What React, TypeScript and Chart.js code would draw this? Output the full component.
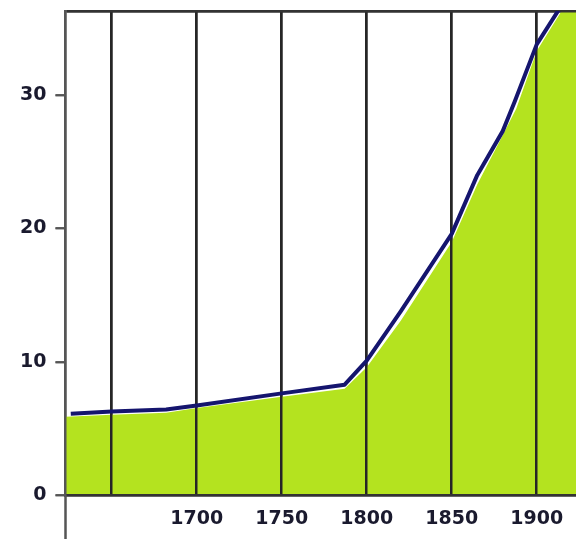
import React, { useEffect, useRef } from "react";
import { Chart, registerables } from "chart.js";

Chart.register(...registerables);

// Data
const lineYears = [1625.9, 1650, 1682, 1700, 1750, 1787, 1800, 1820, 1850, 1865, 1880, 1887, 1900, 1916];
const lineValues = [6.13, 6.3, 6.45, 6.75, 7.65, 8.3, 10.1, 13.8, 19.6, 24.0, 27.3, 29.5, 33.8, 37.0];

const fillYears = [1622.8, 1650, 1682, 1700, 1750, 1787, 1800, 1820, 1850, 1865, 1880, 1888, 1900, 1918, 1923.1];
const fillValues = [5.9, 6.05, 6.2, 6.55, 7.4, 8.0, 9.6, 13.1, 19.0, 23.3, 27.0, 29.0, 33.3, 37.0, 37.0];

const xTicks = [1650, 1700, 1750, 1800, 1850, 1900];
const yTicks = [0, 10, 20, 30];

const X_MIN = 1622.8;
const X_MAX = 1923.1;
const Y_MAX = 36.3;

export default function App() {
  const ref = useRef<HTMLCanvasElement | null>(null);

  useEffect(() => {
    if (!ref.current) return;
    const gridOnTop = {
      id: "gridOnTop",
      afterDatasetDraw(chart: any, args: any) {
        if (args.index === 1) {
          const ca = chart.chartArea;
          chart.scales.x.drawGrid(ca);
          chart.scales.y.drawGrid(ca);
          chart.scales.x.drawBorder();
          chart.scales.y.drawBorder();
        }
      },
      afterDraw(chart: any) {
        const ctx = chart.ctx;
        const ca = chart.chartArea;
        ctx.save();
        ctx.strokeStyle = "#555";
        ctx.lineWidth = 2.5;
        ctx.beginPath();
        ctx.moveTo(ca.left, ca.bottom);
        ctx.lineTo(ca.left, chart.height);
        ctx.stroke();
        ctx.restore();
      },
    };

    const chart = new Chart(ref.current, {
      type: "line",
      data: {
        datasets: [
          {
            data: lineYears.map((x, i) => ({ x, y: lineValues[i] })),
            borderColor: "#15156e",
            borderWidth: 4,
            pointRadius: 0,
            fill: false,
            tension: 0,
            borderJoinStyle: "round",
            clip: 0,
          },
          {
            data: fillYears.map((x, i) => ({ x, y: fillValues[i] })),
            borderWidth: 0,
            borderColor: "rgba(0,0,0,0)",
            backgroundColor: "#b4e31f",
            pointRadius: 0,
            fill: "origin",
            tension: 0,
            clip: 0,
          },
        ],
      } as any,
      plugins: [gridOnTop],
      options: {
        animation: false,
        responsive: false,
        events: [],
        layout: { padding: { top: 11, left: 0, right: 0, bottom: 0 } },
        plugins: {
          legend: { display: false },
          tooltip: { enabled: false },
        },
        scales: {
          x: {
            type: "linear",
            min: X_MIN,
            max: X_MAX,
            afterBuildTicks: (s: any) => {
              s.ticks = xTicks.map((v) => ({ value: v }));
            },
            afterFit: (s: any) => {
              s.height = 43.5;
              s.paddingLeft = 0;
              s.paddingRight = 0;
            },
            grid: {
              color: "#262626",
              lineWidth: 2.5,
              drawTicks: false,
            },
            border: { display: true, color: "#333", width: 2.5 },
            ticks: {
              padding: 12,
              color: "#1a1a2e",
              font: { family: "DejaVu Sans", size: 19, weight: "bold" },
              maxRotation: 0,
              autoSkip: false,
              callback: (v: any) => (v === 1650 ? "" : String(v)),
            },
          },
          y: {
            type: "linear",
            min: 0,
            max: Y_MAX,
            afterBuildTicks: (s: any) => {
              s.ticks = [...yTicks, Y_MAX].map((v) => ({ value: v }));
            },
            afterFit: (s: any) => {
              s.width = 65.5;
              s.paddingTop = 0;
              s.paddingBottom = 0;
            },
            grid: {
              drawOnChartArea: true,
              color: (c: any) => (c.tick && c.tick.value === Y_MAX ? "#333" : "rgba(0,0,0,0)"),
              lineWidth: 2.5,
              drawTicks: true,
              tickLength: 10,
              tickColor: (c: any) => (c.tick && c.tick.value === Y_MAX ? "rgba(0,0,0,0)" : "#555"),
              tickWidth: 2,
            },
            border: { display: true, color: "#555", width: 2.5 },
            ticks: {
              padding: 9,
              color: "#1a1a2e",
              font: { family: "DejaVu Sans", size: 19, weight: "bold" },
              autoSkip: false,
              callback: (v: any) => (v === Y_MAX ? "" : String(v)),
            },
          },
        },
      } as any,
    });
    return () => chart.destroy();
  }, []);

  return (
    <div style={{ position: "fixed", left: 0, top: 0, width: 576, height: 539, background: "#fff" }}>
      <canvas ref={ref} width={576} height={539} style={{ display: "block" }} />
    </div>
  );
}
